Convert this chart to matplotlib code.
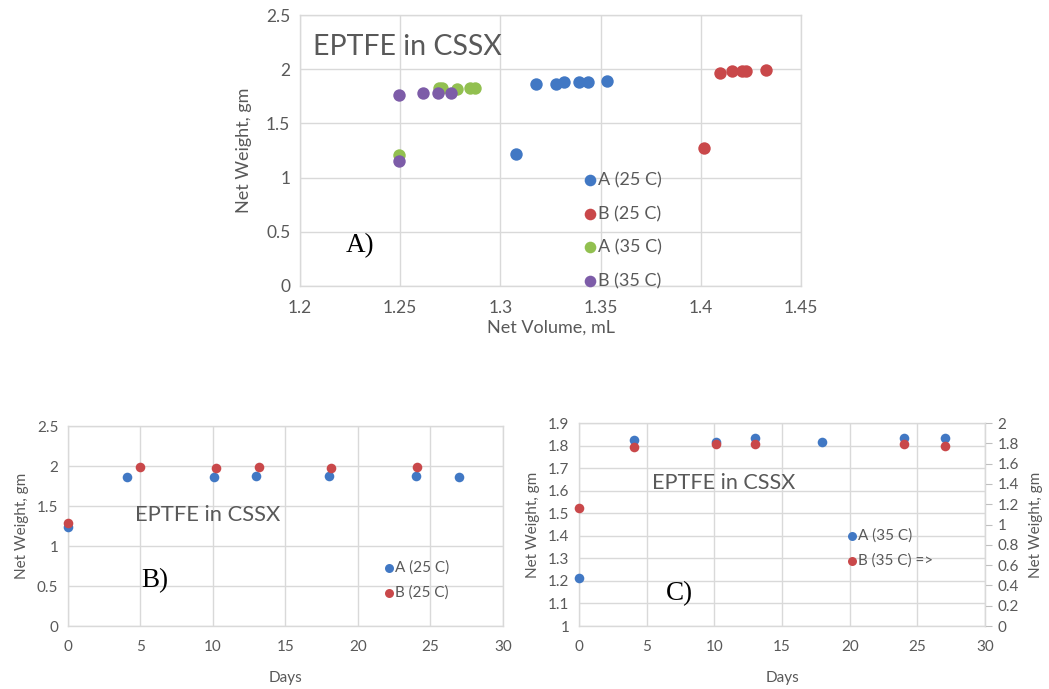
import matplotlib
matplotlib.use("Agg")
import matplotlib.pyplot as plt
from matplotlib.ticker import MultipleLocator

# ---- data -------------------------------------------------------------
# Panel A: net weight vs net volume
vol_a25 = [1.308, 1.318, 1.3275, 1.3315, 1.339, 1.3437, 1.353]
wt_a25 = [1.22, 1.864, 1.864, 1.88, 1.88, 1.88, 1.895]
vol_b25 = [1.4016, 1.4094, 1.4154, 1.4206, 1.4226, 1.4325]
wt_b25 = [1.273, 1.963, 1.98, 1.98, 1.98, 1.996]
vol_a35 = [1.2496, 1.2694, 1.2708, 1.2785, 1.285, 1.2875]
wt_a35 = [1.21, 1.826, 1.826, 1.817, 1.826, 1.826]
vol_b35 = [1.2496, 1.2496, 1.2616, 1.2691, 1.2755]
wt_b35 = [1.763, 1.154, 1.78, 1.78, 1.78]

# Panel B: 25 C weight vs days
days_a25 = [0, 4.1, 10.05, 13.0, 18.0, 24.0, 27.0]
days_wt_a25 = [1.234, 1.866, 1.866, 1.88, 1.88, 1.88, 1.866]
days_b25 = [0, 5.0, 10.23, 13.15, 18.16, 24.07]
days_wt_b25 = [1.29, 1.99, 1.97, 1.99, 1.97, 1.99]

# Panel C: 35 C weight vs days (B on secondary axis)
days_a35 = [0, 4.07, 10.09, 13.02, 17.97, 24.03, 27.08]
days_wt_a35 = [1.213, 1.825, 1.818, 1.833, 1.818, 1.833, 1.833]
days_b35 = [0, 4.07, 10.09, 13.02, 24.03, 27.08]
days_wt_b35 = [1.161, 1.768, 1.791, 1.791, 1.791, 1.778]

# ---- style ------------------------------------------------------------
BLUE = "#4178C4"
RED = "#C9484A"
GREEN = "#92C050"
PURPLE = "#7D5CA8"
GRID = "#D9D9D9"
TXT = "#595959"
FONT = "Lato"
SERIF = "Liberation Serif"

plt.rcParams["font.family"] = [FONT, "DejaVu Sans"]

fig = plt.figure(figsize=(10.49, 6.89), dpi=100)


def style_axes(ax, fs, xpad, ypad):
    ax.grid(True, color=GRID, linewidth=1.0)
    ax.set_axisbelow(True)
    for s in ax.spines.values():
        s.set_color(GRID)
        s.set_linewidth(1.0)
    ax.tick_params(axis="both", length=0, colors=TXT, labelsize=fs)
    ax.tick_params(axis="x", pad=xpad)
    ax.tick_params(axis="y", pad=ypad)


def fmt(v, pos=None):
    s = ("%.2f" % v).rstrip("0").rstrip(".")
    return s


# ---- Panel A ----------------------------------------------------------
axA = fig.add_axes([0.286, 0.585, 0.4776, 0.393])
style_axes(axA, 12.5, 10, 7)
axA.set_xlim(1.2, 1.45)
axA.set_ylim(0, 2.5)
axA.xaxis.set_major_locator(MultipleLocator(0.05))
axA.yaxis.set_major_locator(MultipleLocator(0.5))
axA.xaxis.set_major_formatter(fmt)
axA.yaxis.set_major_formatter(fmt)
sA = 80
axA.scatter(vol_a25, wt_a25, s=sA, color=BLUE, zorder=3, linewidths=0)
axA.scatter(vol_b25, wt_b25, s=sA, color=RED, zorder=3, linewidths=0)
axA.scatter(vol_a35, wt_a35, s=sA, color=GREEN, zorder=3, linewidths=0)
axA.scatter(vol_b35, wt_b35, s=sA, color=PURPLE, zorder=3, linewidths=0)
axA.set_xlabel("Net Volume, mL", color=TXT, fontsize=13, labelpad=3)
axA.set_ylabel("Net Weight, gm", color=TXT, fontsize=13, labelpad=10)
axA.text(0.025, 0.882, "EPTFE in CSSX", transform=axA.transAxes,
         color=TXT, fontsize=20.5, ha="left", va="center")
axA.text(0.092, 0.15, "A)", transform=axA.transAxes, color="black",
         fontsize=19.5, family=SERIF, ha="left", va="center")
for i, (lab, col) in enumerate([("A (25 C)", BLUE), ("B (25 C)", RED),
                                ("A (35 C)", GREEN), ("B (35 C)", PURPLE)]):
    y = 0.39 - i * 0.124
    axA.scatter([0.578], [y], s=70, color=col, transform=axA.transAxes,
                zorder=4, linewidths=0, clip_on=False)
    axA.text(0.594, y, lab, transform=axA.transAxes, color=TXT,
             fontsize=13, ha="left", va="center")

# ---- Panel B ----------------------------------------------------------
axB = fig.add_axes([0.0648, 0.0914, 0.4147, 0.2903])
style_axes(axB, 11, 10, 7)
axB.set_xlim(0, 30)
axB.set_ylim(0, 2.5)
axB.xaxis.set_major_locator(MultipleLocator(5))
axB.yaxis.set_major_locator(MultipleLocator(0.5))
axB.yaxis.set_major_formatter(fmt)
sB = 48
axB.scatter(days_a25, days_wt_a25, s=sB, color=BLUE, zorder=3,
            linewidths=0, clip_on=False)
axB.scatter(days_b25, days_wt_b25, s=sB, color=RED, zorder=3,
            linewidths=0, clip_on=False)
axB.set_xlabel("Days", color=TXT, fontsize=11, labelpad=12)
axB.set_ylabel("Net Weight, gm", color=TXT, fontsize=11, labelpad=6)
axB.text(0.155, 0.555, "EPTFE in CSSX", transform=axB.transAxes,
         color=TXT, fontsize=15.8, ha="left", va="center")
axB.text(0.168, 0.225, "B)", transform=axB.transAxes, color="black",
         fontsize=19.5, family=SERIF, ha="left", va="center")
for i, (lab, col) in enumerate([("A (25 C)", BLUE), ("B (25 C)", RED)]):
    y = 0.29 - i * 0.125
    axB.scatter([0.737], [y], s=42, color=col, transform=axB.transAxes,
                zorder=4, linewidths=0)
    axB.text(0.752, y, lab, transform=axB.transAxes, color=TXT,
             fontsize=11, ha="left", va="center")

# ---- Panel C ----------------------------------------------------------
axC = fig.add_axes([0.552, 0.0914, 0.387, 0.2945])
style_axes(axC, 11, 10, 7)
axC.set_xlim(0, 30)
axC.set_ylim(1.0, 1.9)
axC.xaxis.set_major_locator(MultipleLocator(5))
axC.yaxis.set_major_locator(MultipleLocator(0.1))
axC.yaxis.set_major_formatter(fmt)
axC.scatter(days_a35, days_wt_a35, s=sB, color=BLUE, zorder=3,
            linewidths=0, clip_on=False)
axC.set_xlabel("Days", color=TXT, fontsize=11, labelpad=12)
axC.set_ylabel("Net Weight, gm", color=TXT, fontsize=11, labelpad=6)

axC2 = axC.twinx()
axC2.set_ylim(0, 2.0)
axC2.yaxis.set_major_locator(MultipleLocator(0.2))
axC2.yaxis.set_major_formatter(fmt)
for s in axC2.spines.values():
    s.set_visible(False)
axC2.spines["right"].set_visible(True)
axC2.spines["right"].set_color(GRID)
axC2.tick_params(axis="y", length=5, color="#BFBFBF", labelcolor=TXT,
                 labelsize=11, pad=4)
axC2.scatter(days_b35, days_wt_b35, s=sB, color=RED, zorder=3,
             linewidths=0, clip_on=False)
axC2.set_ylabel("Net Weight, gm", color=TXT, fontsize=11, labelpad=7)

axC2.text(0.18, 0.705, "EPTFE in CSSX", transform=axC2.transAxes,
          color=TXT, fontsize=15.6, ha="left", va="center")
axC2.text(0.215, 0.16, "C)", transform=axC2.transAxes, color="black",
          fontsize=19.5, family=SERIF, ha="left", va="center")
for i, (lab, col) in enumerate([("A (35 C)", BLUE), ("B (35 C) =>", RED)]):
    y = 0.446 - i * 0.125
    axC2.scatter([0.672], [y], s=42, color=col, transform=axC2.transAxes,
                 zorder=4, linewidths=0)
    axC2.text(0.687, y, lab, transform=axC2.transAxes, color=TXT,
              fontsize=11, ha="left", va="center")

fig.savefig("out.png", dpi=100)
